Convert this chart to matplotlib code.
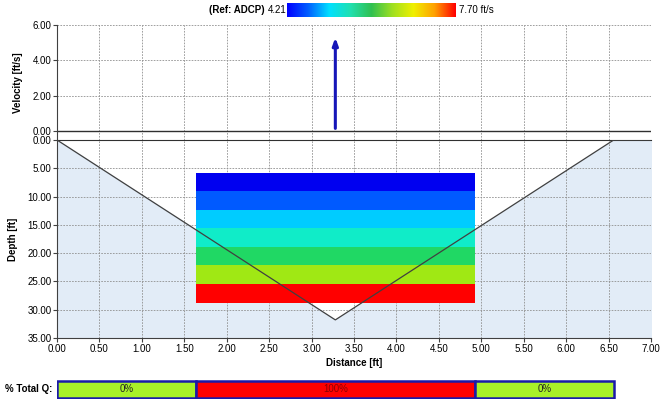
import matplotlib
matplotlib.use("Agg")
import matplotlib.pyplot as plt
import numpy as np
from matplotlib.colors import LinearSegmentedColormap
from matplotlib.patches import Rectangle

# channel geometry (distance, depth)
bed_x = [0.0, 3.28, 6.56, 7.0]
bed_y = [0.0, 31.8, 0.0, 0.0]

# velocity profile cells
cell_left = 1.64
cell_right = 4.93
cell_edges = [5.78, 9.07, 12.37, 15.6, 18.85, 22.14, 25.44, 28.86]
cell_colors = ["#0000F0", "#005AFF", "#00CCFF", "#10ECC8", "#20D864", "#A0E814", "#FF0000"]

# mean velocity arrow
arrow_x = 3.28
arrow_v = 5.45

# % total Q
q_edges = [0.0, 1.64, 4.93, 6.56]
q_labels = ["0%", "100%", "0%"]
q_colors = ["#A8F028", "#FF0000", "#A8F028"]
q_text_colors = ["#222222", "#8B0000", "#222222"]

vmin, vmax = 4.21, 7.70

FS = 7
plt.rcParams["font.family"] = ["Liberation Sans", "DejaVu Sans"]
plt.rcParams["font.size"] = FS

fig = plt.figure(figsize=(6.6, 4.05), dpi=100)
W, H = 660.0, 405.0


def ax_box(x0, y0, x1, y1):
    return [x0 / W, 1 - y1 / H, (x1 - x0) / W, (y1 - y0) / H]


grid_kw = dict(color="#909090", linestyle=(0, (2, 1.5)), linewidth=0.6)

# velocity panel
axv = fig.add_axes(ax_box(57, 25, 651, 140))
axv.set_xlim(0, 7)
axv.set_ylim(-0.5, 6)
axv.set_yticks([0, 2, 4, 6])
axv.set_yticklabels(["%.2f" % v for v in [0, 2, 4, 6]])
axv.set_xticks(np.arange(0, 7.01, 0.5))
axv.tick_params(axis="x", length=0, labelbottom=False)
axv.tick_params(axis="y", length=3, color="#404040", pad=1)
axv.grid(True, **grid_kw)
for s in ["top", "right", "bottom"]:
    axv.spines[s].set_visible(False)
axv.spines["left"].set_color("#404040")
axv.axhline(0, color="#303030", linewidth=1.0)
axv.set_ylabel("Velocity [ft/s]", fontweight="bold", labelpad=7)
axv.annotate("", xy=(arrow_x, arrow_v), xytext=(arrow_x, 0),
             arrowprops=dict(arrowstyle="-|>,head_length=0.6,head_width=0.22",
                             color="#1616B8", linewidth=2.2))

# depth panel
axd = fig.add_axes(ax_box(57, 140, 651, 338))
axd.set_xlim(0, 7)
axd.set_ylim(35, 0)
axd.set_xticks(np.arange(0, 7.01, 0.5))
axd.set_xticklabels(["%.2f" % v for v in np.arange(0, 7.01, 0.5)])
axd.set_yticks(np.arange(0, 35.1, 5))
axd.set_yticklabels(["%.2f" % v for v in np.arange(0, 35.1, 5)])
axd.tick_params(length=3, color="#404040", pad=1)
axd.grid(True, **grid_kw)
axd.spines["right"].set_visible(False)
axd.spines["top"].set_color("#303030")
axd.spines["left"].set_color("#404040")
axd.spines["bottom"].set_color("#404040")
axd.fill_between(bed_x, bed_y, 35, color="#E2ECF7", zorder=0.5)
for i, c in enumerate(cell_colors):
    axd.add_patch(Rectangle((cell_left, cell_edges[i]), cell_right - cell_left,
                            cell_edges[i + 1] - cell_edges[i],
                            facecolor=c, edgecolor="none", zorder=2))
axd.plot(bed_x, bed_y, color="#404040", linewidth=0.9, zorder=3)
axd.set_ylabel("Depth [ft]", fontweight="bold", labelpad=7)
axd.set_xlabel("Distance [ft]", fontweight="bold", labelpad=3)

# colour scale
cmap = LinearSegmentedColormap.from_list(
    "adcp", ["#0000FF", "#0060FF", "#00E0FF", "#20E0B0", "#30C050",
             "#A0E020", "#F0F000", "#FFA000", "#FF0000"])
axc = fig.add_axes(ax_box(287, 3, 456, 17))
axc.imshow(np.linspace(0, 1, 256)[None, :], aspect="auto", cmap=cmap,
           extent=[0, 1, 0, 1])
axc.set_axis_off()
fig.text(268 / W, 1 - 10 / H, "4.21", ha="left", va="center", fontsize=FS)
fig.text(265 / W, 1 - 10 / H, "(Ref: ADCP)", ha="right", va="center",
         fontsize=FS, fontweight="bold")
fig.text(459 / W, 1 - 10 / H, "7.70 ft/s", ha="left", va="center", fontsize=FS)

# % total Q bar
axq = fig.add_axes(ax_box(57, 380, 651, 399))
axq.set_xlim(0, 7)
axq.set_ylim(0, 1)
axq.set_axis_off()
for i in range(len(q_labels)):
    x0, x1 = q_edges[i], q_edges[i + 1]
    axq.add_patch(Rectangle((x0, 0.05), x1 - x0, 0.9, facecolor=q_colors[i],
                            edgecolor="#1A1AA8", linewidth=1.8))
    axq.text((x0 + x1) / 2, 0.5, q_labels[i], ha="center", va="center",
             fontsize=FS, color=q_text_colors[i])
fig.text(52 / W, 1 - 389 / H, "% Total Q:", ha="right", va="center",
         fontsize=FS, fontweight="bold")

fig.savefig("out.png", dpi=100)
